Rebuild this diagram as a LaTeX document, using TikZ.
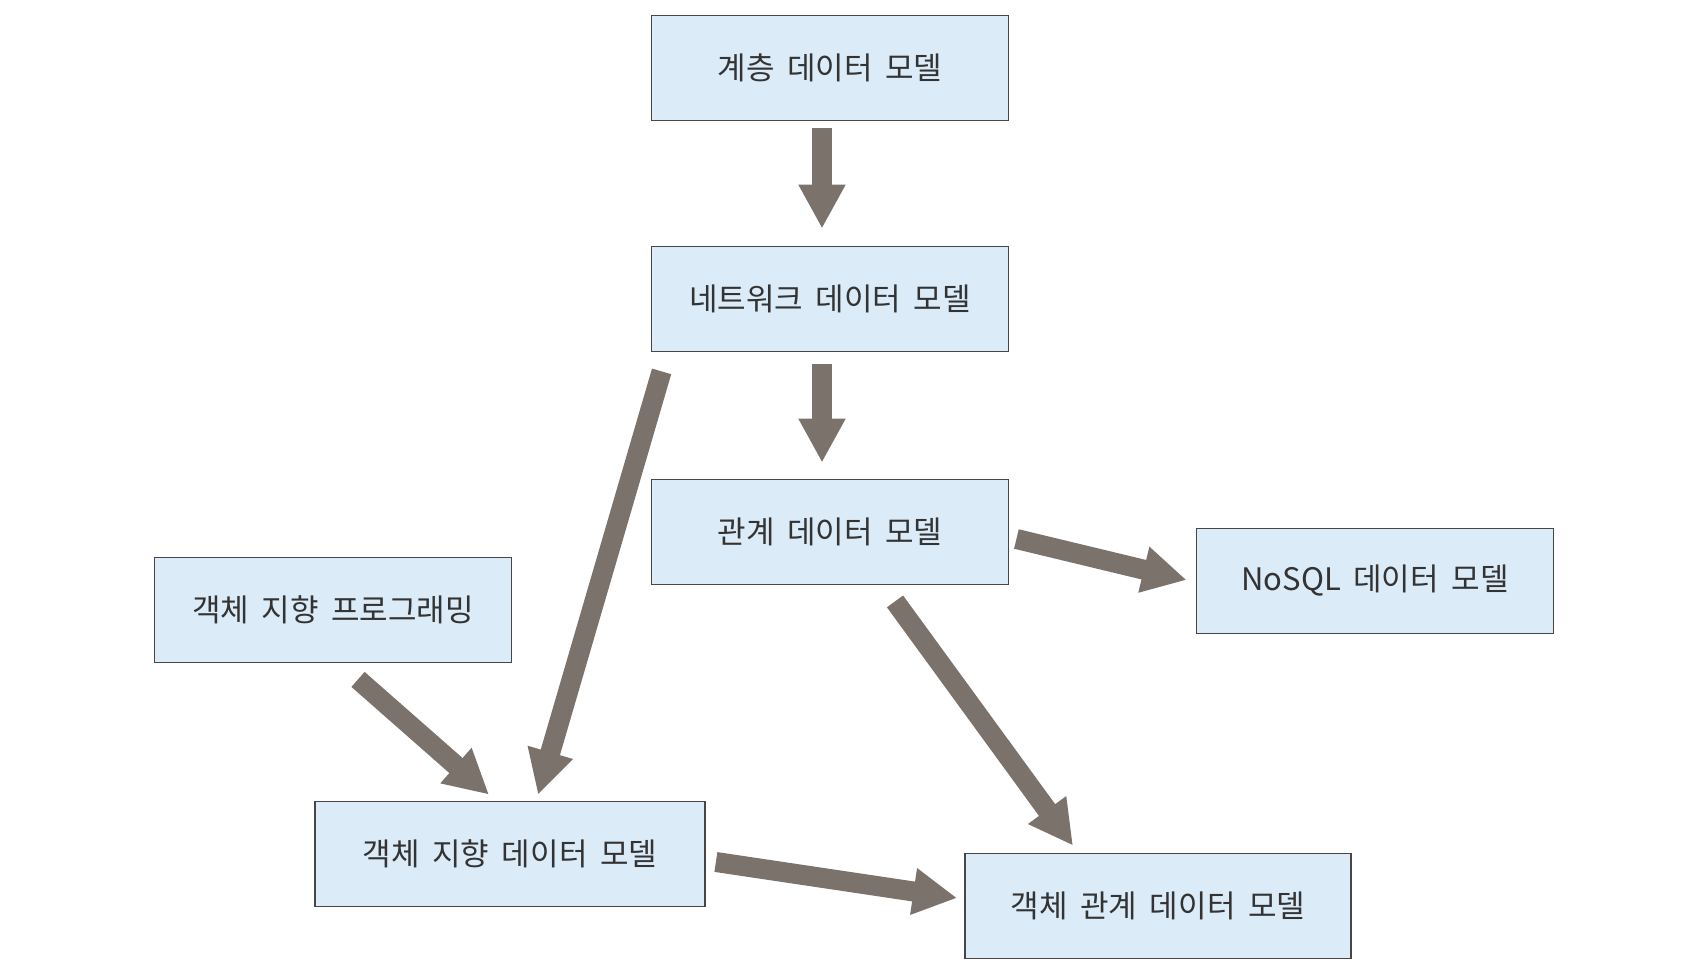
\documentclass[tikz,border=0pt]{standalone}
\usepackage{fontspec}
\newfontfamily\krfont{Noto Sans CJK KR}[WordSpace=1.8]
\usetikzlibrary{calc,arrows.meta}

\definecolor{boxfill}{RGB}{219,235,248}
\definecolor{boxline}{RGB}{70,70,70}
\definecolor{arrowgray}{RGB}{123,114,108}

\begin{document}
\begin{tikzpicture}[x=0.5pt, y=-0.5pt, >={Triangle[width=22pt,length=22pt]},
  model/.style={draw=boxline, line width=0.9pt, fill=boxfill,
    minimum width=178.5pt, minimum height=52.5pt, inner sep=0pt,
    font=\krfont\fontsize{15.5pt}{18pt}\selectfont, text=black!80},
  flow/.style={->, draw=arrowgray, line width=10pt}]

  % Page (pixel grid of the picture)
  \useasboundingbox (0,0) rectangle (1682,978);

  % Models
  \node[model] (hier)  at (830,68)  {계층 데이터 모델};
  \node[model] (net)   at (830,299) {네트워크 데이터 모델};
  \node[model] (rel)   at (830,532) {관계 데이터 모델};
  \node[model] (nosql) at (1375,581) {NoSQL 데이터 모델};
  \node[model] (oop)   at (333,610) {객체 지향 프로그래밍};
  \node[model, minimum width=195pt] (oo) at (510,854) {객체 지향 데이터 모델};
  \node[model, minimum width=193pt] (orm) at (1158,906) {객체 관계 데이터 모델};

  % Straight down the chain
  \draw[flow] ($(hier.south)+(-8,7)$) -- ($(net.north)+(-8,-17)$);
  \draw[flow] ($(net.south)+(-8,12)$) -- ($(rel.north)+(-8,-16)$);

  % Into the object oriented model
  \draw[flow] ($(net.south west)+(11,19)$) -- ($(oo.north)+(28,-6)$);
  \draw[flow] ($(oop.south)+(25,16)$) -- ($(oo.north)+(-21,-6)$);

  % Out of the relational model
  \draw[flow] ($(rel.east)+(7,7)$) -- ($(nosql.west)+(-9,-1)$);
  \draw[flow] ($(rel.south)+(65,16)$) -- ($(orm.north)+(-85,-7)$);

  % Object oriented -> object relational
  \draw[flow] ($(oo.east)+(10,8)$) -- ($(orm.west)+(-7,-8)$);

\end{tikzpicture}
\end{document}
